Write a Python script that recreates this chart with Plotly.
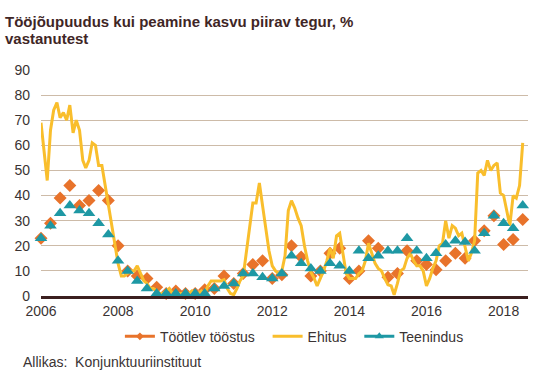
import plotly.graph_objects as go
import pandas as pd

title_lines = ["Tööjõupuudus kui peamine kasvu piirav tegur, %", "vastanutest"]
source_text = "Allikas:  Konjunktuuriinstituut"

series_names = ["Töötlev tööstus", "Ehitus", "Teenindus"]

# Quarterly series, 2006Q1 .. 2018Q3
quarter_dates = pd.date_range("2006-01-01", periods=51, freq="3MS")
tootlev = [23, 29, 39, 44, 36, 38, 42, 38, 20, 10,
           8, 7, 3.5, 1, 2, 1, 1, 2.5, 3, 8,
           5, 9, 12.5, 14, 7, 8.5, 20, 15.5, 8, 10,
           17, 19, 7, 10, 22, 19, 7.5, 9, 18, 14,
           12.5, 10.5, 14, 17, 15, 22, 26, 32, 20.5, 22.5,
           30.5]
teenindus = [23, 28, 33, 36, 34, 33, 29, 24.5, 14, 10,
             6, 3, 1, 1, 1, 1, 1, 1, 3, 4,
             5, 9, 9, 7.5, 7, 9, 16, 13, 11, 10,
             13, 12, 10, 18, 15, 16, 18, 18, 23, 18,
             15, 17, 20.5, 22, 21.5, 18, 25, 32, 29, 27,
             36]

# Monthly series, 2006-01 .. 2018-07
month_dates = pd.date_range("2006-01-01", periods=151, freq="MS")
ehitus = [69, 56, 46, 66, 74, 77, 71, 73, 70, 76, 65, 70,
          66, 54, 51, 54, 61, 60, 52, 52, 44, 38, 30, 21,
          13, 8, 8, 9, 10, 10, 12, 9, 6, 5, 3, 3,
          2, 1, 1, 2, 3, 1, 0.5, 1, 1, 0.5, 1, 2,
          1, 1, 2, 1, 4, 6, 6, 6, 6, 6.5, 3, 1,
          0.5, 3, 6, 8, 18, 29, 37, 37, 45, 36, 27, 18,
          12, 10, 9, 10, 16, 34, 38, 35, 31, 28, 20, 14,
          9.5, 7, 4, 7, 10, 14, 19, 15, 24, 25, 17, 9,
          7, 7, 7, 9, 10, 14, 21, 17, 13, 11, 10, 7,
          4.5, 4, 0.5, 5, 10, 11, 15, 17, 14, 12, 12, 10,
          4, 7, 11, 14, 20, 21, 30, 23, 28, 27, 24, 25,
          19, 14, 17, 22, 49, 50, 48, 54, 50, 52, 53, 41,
          40, 33, 28, 40, 39, 44, 61]

y_ticks = list(range(0, 100, 10))

c_orange = "#E8732B"
c_yellow = "#F9BE2C"
c_teal = "#1E98A4"
c_text = "#3A3333"
c_title = "#3F2626"
c_grid = "#CDBBA8"
c_axis = "#3B1F1F"

pad = "\u00a0\u00a0"

fig = go.Figure()
fig.add_trace(go.Scatter(x=quarter_dates, y=tootlev, mode="markers", name=series_names[0],
                         marker=dict(symbol="diamond", size=10, color=c_orange),
                         cliponaxis=False, showlegend=False))
fig.add_trace(go.Scatter(x=month_dates, y=ehitus, mode="lines", name=series_names[1],
                         line=dict(color=c_yellow, width=3), cliponaxis=False, showlegend=False))
fig.add_trace(go.Scatter(x=quarter_dates, y=teenindus, mode="markers", name=series_names[2],
                         marker=dict(symbol="triangle-up", size=11, color=c_teal),
                         cliponaxis=False, showlegend=False))

# legend entries (line + marker like the original)
fig.add_trace(go.Scatter(x=[None], y=[None], mode="lines+markers", name=series_names[0] + pad,
                         line=dict(color=c_orange, width=3),
                         marker=dict(symbol="diamond", size=6, color=c_orange)))
fig.add_trace(go.Scatter(x=[None], y=[None], mode="lines", name=series_names[1] + pad,
                         line=dict(color=c_yellow, width=3)))
fig.add_trace(go.Scatter(x=[None], y=[None], mode="lines+markers", name=series_names[2],
                         line=dict(color=c_teal, width=3),
                         marker=dict(symbol="triangle-up", size=8, color=c_teal)))

annotations = [
    dict(text="<b>" + title_lines[0] + "</b>", xref="paper", yref="paper",
         x=-0.078, y=1.215, xanchor="left", yanchor="middle", showarrow=False,
         font=dict(size=15, color=c_title)),
    dict(text="<b>" + title_lines[1] + "</b>", xref="paper", yref="paper",
         x=-0.078, y=1.138, xanchor="left", yanchor="middle", showarrow=False,
         font=dict(size=15, color=c_title)),
    dict(text=source_text, xref="paper", yref="paper", x=-0.041, y=-0.292,
         xanchor="left", yanchor="middle", showarrow=False,
         font=dict(size=14, color=c_text)),
]

fig.update_layout(
    width=556, height=374,
    margin=dict(l=41, r=28, t=70, b=78),
    paper_bgcolor="white", plot_bgcolor="white",
    font=dict(family="Liberation Sans, Arial, sans-serif", size=14, color=c_text),
    xaxis=dict(type="date", range=["2006-01-01", "2018-08-20"],
               tickformat="%Y", dtick="M24", tick0="2006-01-01",
               showgrid=False, showline=True, linecolor=c_axis, linewidth=3,
               ticks="", zeroline=False, tickfont=dict(size=14, color=c_text)),
    yaxis=dict(range=[0, 90], tickvals=y_ticks, showgrid=True, gridcolor=c_grid,
               gridwidth=1, zeroline=False, showline=False, ticks="",
               ticklabelstandoff=10, tickfont=dict(size=14, color=c_text)),
    legend=dict(orientation="h", x=0.162, xanchor="left", y=-0.18, yanchor="middle",
                font=dict(size=14, color=c_text), itemwidth=30, tracegroupgap=0),
    annotations=annotations,
)

fig.write_html("out.html", config={"displayModeBar": False},
               post_script="document.body.style.margin='0';")
